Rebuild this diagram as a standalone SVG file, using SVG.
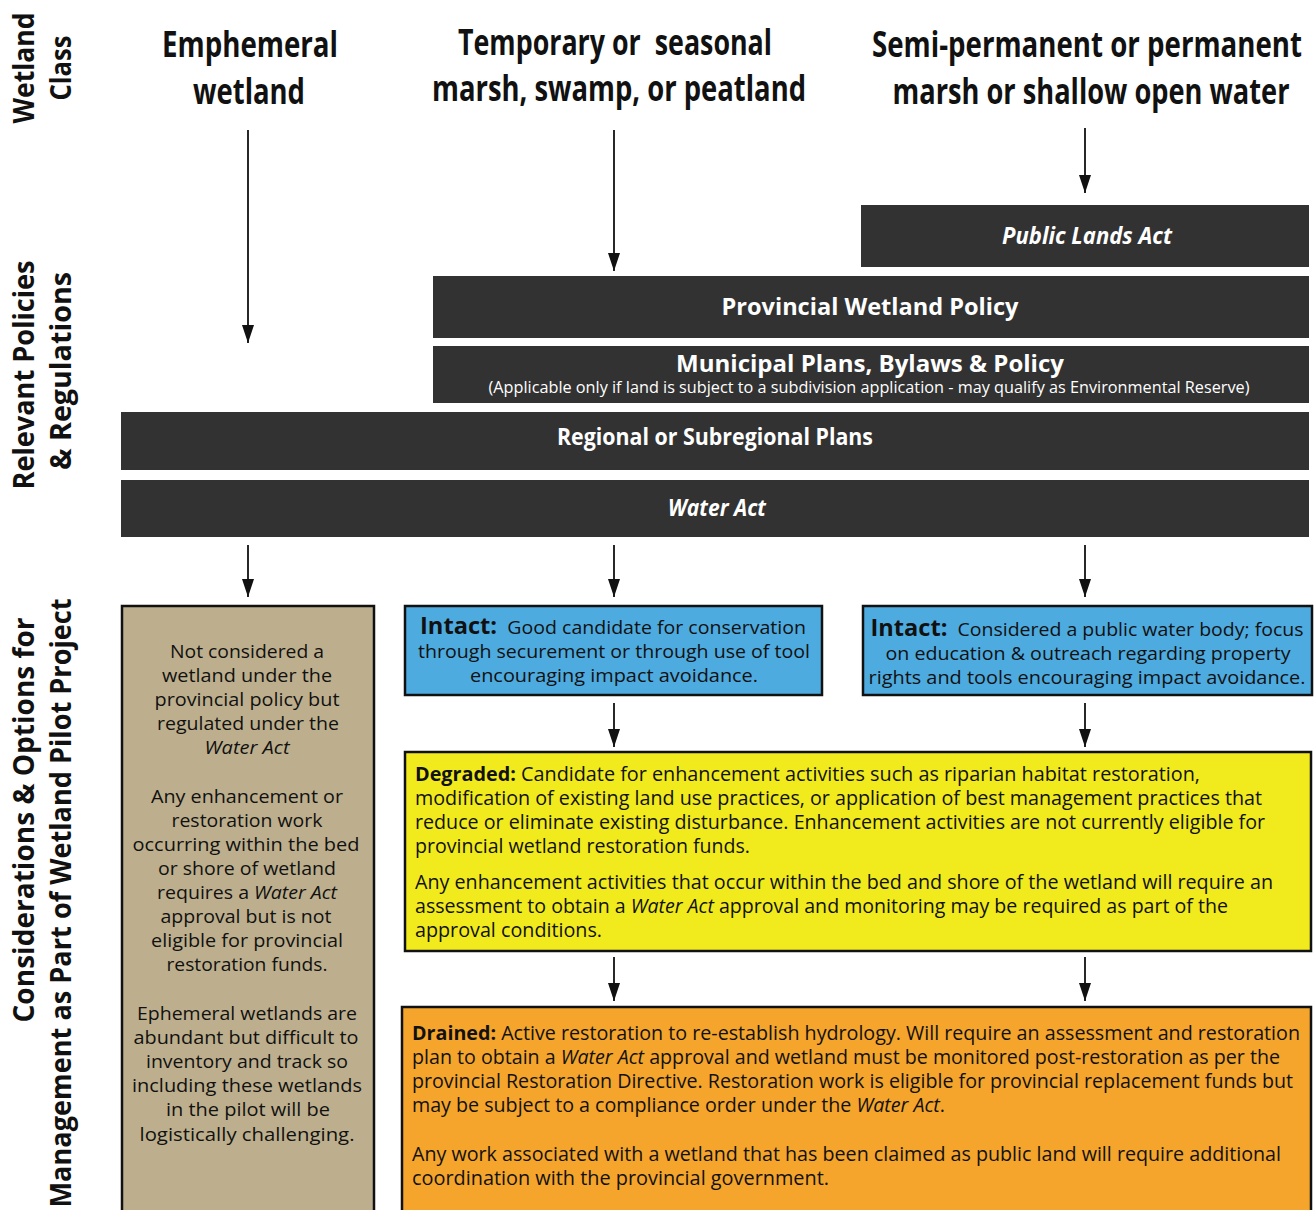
<svg xmlns="http://www.w3.org/2000/svg" width="1315" height="1210" viewBox="0 0 1315 1210">
<style>
text{font-family:"Open Sans","Noto Sans","Liberation Sans",sans-serif;fill:#111}
.hdr{font-size:35px;font-weight:700;text-anchor:middle}
.side{font-size:29px;font-weight:700;text-anchor:middle}
.bar{fill:#323232}
.bt{fill:#fff;font-weight:700;font-size:24px;text-anchor:middle}
.sub{fill:#fff;font-size:15.5px;text-anchor:middle}
.tan{fill:#bdaf8d;stroke:#111;stroke-width:2.5}
.blue{fill:#4eabe0;stroke:#111;stroke-width:2.5}
.yel{fill:#f1eb1d;stroke:#111;stroke-width:2.5}
.org{fill:#f5a52b;stroke:#111;stroke-width:2.5}
.c{font-size:19px;text-anchor:middle}
.l{font-size:20px}
.b{font-weight:700}
.i{font-style:italic}
.big{font-size:23px;font-weight:700}
.con line{stroke:#111;stroke-width:1.8}
</style>
<defs>
<marker id="ah" viewBox="0 0 18 12" refX="18" refY="6" markerWidth="18" markerHeight="12" markerUnits="userSpaceOnUse" orient="auto">
<path d="M0,0 L18,6 L0,12 Z" fill="#111"/>
</marker>
</defs>
<rect width="1315" height="1210" fill="#fff"/>

<g id="side-labels">
<text class="side" transform="translate(34,68) rotate(-90)" textLength="111" lengthAdjust="spacingAndGlyphs">Wetland</text>
<text class="side" transform="translate(71,68) rotate(-90)" textLength="65" lengthAdjust="spacingAndGlyphs">Class</text>
<text class="side" transform="translate(34,375) rotate(-90)" textLength="229" lengthAdjust="spacingAndGlyphs">Relevant Policies</text>
<text class="side" transform="translate(71,371) rotate(-90)" textLength="198" lengthAdjust="spacingAndGlyphs">&amp; Regulations</text>
<text class="side" transform="translate(34,820) rotate(-90)" textLength="405" lengthAdjust="spacingAndGlyphs">Considerations &amp; Options for</text>
<text class="side" transform="translate(71,903) rotate(-90)" textLength="609" lengthAdjust="spacingAndGlyphs">Management as Part of Wetland Pilot Project</text>
</g>

<g id="hdr-ephemeral">
<text class="hdr" x="250" y="57" textLength="176" lengthAdjust="spacingAndGlyphs">Emphemeral</text>
<text class="hdr" x="249" y="104" textLength="112" lengthAdjust="spacingAndGlyphs">wetland</text>
</g>
<g id="hdr-temporary">
<text class="hdr" x="615" y="55" textLength="314" lengthAdjust="spacingAndGlyphs" xml:space="preserve">Temporary or  seasonal</text>
<text class="hdr" x="619" y="101" textLength="374" lengthAdjust="spacingAndGlyphs">marsh, swamp, or peatland</text>
</g>
<g id="hdr-permanent">
<text class="hdr" x="1087" y="57" textLength="430" lengthAdjust="spacingAndGlyphs">Semi-permanent or permanent</text>
<text class="hdr" x="1091" y="104" textLength="397" lengthAdjust="spacingAndGlyphs">marsh or shallow open water</text>
</g>

<g id="public-lands-act">
<rect class="bar" x="861" y="205" width="448" height="62"/>
<text class="bt i" x="1087" y="244" font-size="22" textLength="170" lengthAdjust="spacingAndGlyphs">Public Lands Act</text>
</g>
<g id="provincial-wetland-policy">
<rect class="bar" x="433" y="276" width="876" height="62"/>
<text class="bt" x="870" y="315" textLength="297" lengthAdjust="spacingAndGlyphs">Provincial Wetland Policy</text>
</g>
<g id="municipal-plans">
<rect class="bar" x="433" y="346" width="876" height="57"/>
<text class="bt" x="870" y="372" textLength="388" lengthAdjust="spacingAndGlyphs">Municipal Plans, Bylaws &amp; Policy</text>
<text class="sub" x="869" y="393" textLength="761" lengthAdjust="spacingAndGlyphs">(Applicable only if land is subject to a subdivision application - may qualify as Environmental Reserve)</text>
</g>
<g id="regional-plans">
<rect class="bar" x="121" y="412" width="1188" height="58"/>
<text class="bt" x="715" y="445" textLength="316" lengthAdjust="spacingAndGlyphs">Regional or Subregional Plans</text>
</g>
<g id="water-act">
<rect class="bar" x="121" y="480" width="1188" height="57"/>
<text class="bt i" x="717" y="516" textLength="98" lengthAdjust="spacingAndGlyphs">Water Act</text>
</g>

<g id="ephemeral-considerations">
<rect class="tan" x="122" y="606" width="252" height="620"/>
<text class="c" x="247" y="658" textLength="154" lengthAdjust="spacingAndGlyphs">Not considered a</text>
<text class="c" x="247" y="682" textLength="170" lengthAdjust="spacingAndGlyphs">wetland under the</text>
<text class="c" x="247" y="706" textLength="185" lengthAdjust="spacingAndGlyphs">provincial policy but</text>
<text class="c" x="248" y="730" textLength="182" lengthAdjust="spacingAndGlyphs">regulated under the</text>
<text class="c i" x="247" y="754" textLength="85" lengthAdjust="spacingAndGlyphs">Water Act</text>
<text class="c" x="247" y="803" textLength="192" lengthAdjust="spacingAndGlyphs">Any enhancement or</text>
<text class="c" x="247" y="827" textLength="151" lengthAdjust="spacingAndGlyphs">restoration work</text>
<text class="c" x="246" y="851" textLength="227" lengthAdjust="spacingAndGlyphs">occurring within the bed</text>
<text class="c" x="247" y="875" textLength="178" lengthAdjust="spacingAndGlyphs">or shore of wetland</text>
<text class="c" x="247" y="899" textLength="180" lengthAdjust="spacingAndGlyphs">requires a <tspan class="i">Water Act</tspan></text>
<text class="c" x="246" y="923" textLength="171" lengthAdjust="spacingAndGlyphs">approval but is not</text>
<text class="c" x="247" y="947" textLength="192" lengthAdjust="spacingAndGlyphs">eligible for provincial</text>
<text class="c" x="247" y="971" textLength="161" lengthAdjust="spacingAndGlyphs">restoration funds.</text>
<text class="c" x="247" y="1020" textLength="220" lengthAdjust="spacingAndGlyphs">Ephemeral wetlands are</text>
<text class="c" x="246" y="1044" textLength="225" lengthAdjust="spacingAndGlyphs">abundant but difficult to</text>
<text class="c" x="247" y="1068" textLength="202" lengthAdjust="spacingAndGlyphs">inventory and track so</text>
<text class="c" x="247" y="1092" textLength="230" lengthAdjust="spacingAndGlyphs">including these wetlands</text>
<text class="c" x="248" y="1116" textLength="164" lengthAdjust="spacingAndGlyphs">in the pilot will be</text>
<text class="c" x="247" y="1141" textLength="215" lengthAdjust="spacingAndGlyphs">logistically challenging.</text>
</g>

<g id="intact-temporary">
<rect class="blue" x="405" y="606" width="417" height="89"/>
<text class="c" x="613" y="634" textLength="386" lengthAdjust="spacingAndGlyphs" xml:space="preserve"><tspan class="big">Intact:</tspan>  Good candidate for conservation</text>
<text class="c" x="614" y="658" textLength="392" lengthAdjust="spacingAndGlyphs">through securement or through use of tool</text>
<text class="c" x="614" y="682" textLength="288" lengthAdjust="spacingAndGlyphs">encouraging impact avoidance.</text>
</g>
<g id="intact-permanent">
<rect class="blue" x="863" y="606" width="449" height="89"/>
<text class="c" x="1087" y="636" textLength="433" lengthAdjust="spacingAndGlyphs" xml:space="preserve"><tspan class="big">Intact:</tspan>  Considered a public water body; focus</text>
<text class="c" x="1088" y="660" textLength="405" lengthAdjust="spacingAndGlyphs">on education &amp; outreach regarding property</text>
<text class="c" x="1087" y="684" textLength="437" lengthAdjust="spacingAndGlyphs">rights and tools encouraging impact avoidance.</text>
</g>

<g id="degraded">
<rect class="yel" x="405" y="752" width="906" height="199"/>
<text class="l" x="415" y="781" textLength="785" lengthAdjust="spacingAndGlyphs"><tspan class="b">Degraded:</tspan> Candidate for enhancement activities such as riparian habitat restoration,</text>
<text class="l" x="415" y="805" textLength="847" lengthAdjust="spacingAndGlyphs">modification of existing land use practices, or application of best management practices that</text>
<text class="l" x="415" y="829" textLength="850" lengthAdjust="spacingAndGlyphs">reduce or eliminate existing disturbance. Enhancement activities are not currently eligible for</text>
<text class="l" x="415" y="853" textLength="335" lengthAdjust="spacingAndGlyphs">provincial wetland restoration funds.</text>
<text class="l" x="415" y="889" textLength="858" lengthAdjust="spacingAndGlyphs">Any enhancement activities that occur within the bed and shore of the wetland will require an</text>
<text class="l" x="415" y="913" textLength="813" lengthAdjust="spacingAndGlyphs">assessment to obtain a <tspan class="i">Water Act</tspan> approval and monitoring may be required as part of the</text>
<text class="l" x="415" y="937" textLength="187" lengthAdjust="spacingAndGlyphs">approval conditions.</text>
</g>

<g id="drained">
<rect class="org" x="402" y="1007" width="909" height="220"/>
<text class="l" x="412" y="1040" textLength="888" lengthAdjust="spacingAndGlyphs"><tspan class="b">Drained:</tspan> Active restoration to re-establish hydrology. Will require an assessment and restoration</text>
<text class="l" x="412" y="1064" textLength="868" lengthAdjust="spacingAndGlyphs">plan to obtain a <tspan class="i">Water Act</tspan> approval and wetland must be monitored post-restoration as per the</text>
<text class="l" x="412" y="1088" textLength="881" lengthAdjust="spacingAndGlyphs">provincial Restoration Directive. Restoration work is eligible for provincial replacement funds but</text>
<text class="l" x="412" y="1112" textLength="533" lengthAdjust="spacingAndGlyphs">may be subject to a compliance order under the <tspan class="i">Water Act</tspan>.</text>
<text class="l" x="412" y="1161" textLength="869" lengthAdjust="spacingAndGlyphs">Any work associated with a wetland that has been claimed as public land will require additional</text>
<text class="l" x="412" y="1185" textLength="417" lengthAdjust="spacingAndGlyphs">coordination with the provincial government.</text>
</g>

<g id="connectors" class="con">
<line x1="248" y1="130" x2="248" y2="343" marker-end="url(#ah)"/>
<line x1="614" y1="130" x2="614" y2="271" marker-end="url(#ah)"/>
<line x1="1085" y1="128" x2="1085" y2="193" marker-end="url(#ah)"/>
<line x1="248" y1="545" x2="248" y2="597" marker-end="url(#ah)"/>
<line x1="614" y1="545" x2="614" y2="597" marker-end="url(#ah)"/>
<line x1="1085" y1="545" x2="1085" y2="597" marker-end="url(#ah)"/>
<line x1="614" y1="703" x2="614" y2="747" marker-end="url(#ah)"/>
<line x1="1085" y1="703" x2="1085" y2="747" marker-end="url(#ah)"/>
<line x1="614" y1="957" x2="614" y2="1001" marker-end="url(#ah)"/>
<line x1="1085" y1="957" x2="1085" y2="1001" marker-end="url(#ah)"/>
</g>
</svg>
